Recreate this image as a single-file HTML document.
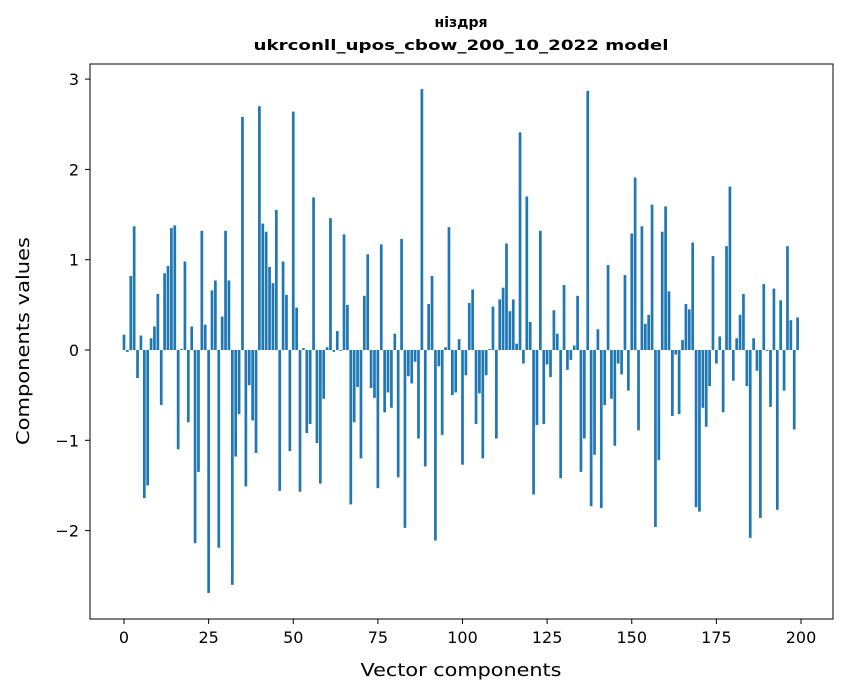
<!DOCTYPE html>
<html><head><meta charset="utf-8"><style>body{margin:0;background:#fff}svg{display:block;font-family:"DejaVu Sans","Liberation Sans",sans-serif}</style></head>
<body>
<svg id="chart" width="847" height="696" viewBox="0 0 847 696" xmlns="http://www.w3.org/2000/svg">
<rect width="847" height="696" fill="#fff"/>
<text x="461" y="27" text-anchor="middle" font-size="14" font-weight="bold">ніздря</text>
<text x="461" y="50" text-anchor="middle" font-size="14" font-weight="bold" textLength="415" lengthAdjust="spacingAndGlyphs">ukrconll_upos_cbow_200_10_2022 model</text>
<g id="bars"></g>
<rect x="90" y="64" width="743" height="555" fill="none" stroke="#000" stroke-width="1"/>
<g id="xt"></g>
<g id="yt"></g>
<text x="461" y="676" text-anchor="middle" font-size="18" textLength="201" lengthAdjust="spacingAndGlyphs">Vector components</text>
<text transform="translate(29,341) rotate(-90)" text-anchor="middle" font-size="18" textLength="208" lengthAdjust="spacingAndGlyphs">Components values</text>
</svg>
<script>
const values = [0.17,-0.02,0.82,1.37,-0.31,0.16,-1.64,-1.50,0.13,0.26,0.62,-0.61,0.85,0.93,1.35,1.38,-1.10,0.01,0.98,-0.80,
0.26,-2.14,-1.35,1.32,0.28,-2.69,0.66,0.77,-2.19,0.37,1.32,0.77,-2.60,-1.18,-0.71,2.58,-1.51,-0.39,-0.78,-1.14,
2.70,1.40,1.31,0.92,0.74,1.55,-1.56,0.98,0.61,-1.12,2.64,0.47,-1.57,0.02,-0.92,-0.82,1.69,-1.03,-1.48,-0.54,
0.03,1.46,-0.02,0.21,-0.01,1.28,0.50,-1.71,-0.80,-0.41,-1.20,0.60,1.06,-0.42,-0.53,-1.53,1.17,-0.69,-0.47,-0.64,
0.18,-1.41,1.23,-1.97,-0.29,-0.37,-0.13,-0.98,2.89,-1.29,0.51,0.82,-2.11,-0.18,-0.94,0.03,1.36,-0.50,-0.47,0.12,
-1.27,-0.28,0.52,0.67,-0.82,-0.48,-1.20,-0.28,0.01,0.48,-0.98,0.56,0.69,1.18,0.43,0.56,0.07,2.41,-0.15,1.70,
0.31,-1.60,-0.83,1.32,-0.82,-0.16,-0.30,0.44,0.18,-1.42,0.72,-0.22,-0.11,0.05,0.60,-1.35,-0.98,2.87,-1.73,-1.16,
0.23,-1.75,-0.61,0.94,-0.54,-1.06,-0.15,-0.27,0.83,-0.45,1.29,1.91,-0.89,1.37,0.29,0.39,1.61,-1.96,-1.22,1.31,
1.59,0.65,-0.73,-0.05,-0.71,0.11,0.51,0.45,1.19,-1.74,-1.79,-0.64,-0.85,-0.40,1.04,-0.15,0.15,-0.69,1.15,1.81,
-0.34,0.13,0.39,0.62,-0.40,-2.08,0.13,-0.23,-1.86,0.73,-0.01,-0.63,0.68,-1.77,0.55,-0.45,1.15,0.33,-0.88,0.36];
const xTicks = [0,25,50,75,100,125,150,175,200];
const yTicks = [-2,-1,0,1,2,3];
const NS='http://www.w3.org/2000/svg';
function xs(v){return 124+(801-124)*v/200;}
function ys(v){return 350-90.3*v;}
const bars=document.getElementById('bars');
values.forEach((v,i)=>{
  const r=document.createElementNS(NS,'rect');
  
  
  const x0=xs(i-0.4),x1=xs(i+0.4);
  r.setAttribute('x',x0);r.setAttribute('width',x1-x0);
  r.setAttribute('y',Math.min(ys(v),ys(0)));r.setAttribute('height',Math.abs(ys(v)-ys(0)));
  r.setAttribute('fill','#1f77b4');
  bars.appendChild(r);
});
const xt=document.getElementById('xt');
xTicks.forEach(t=>{
  const l=document.createElementNS(NS,'line');
  
  
  l.setAttribute('x1',xs(t));l.setAttribute('x2',xs(t));l.setAttribute('y1',619);l.setAttribute('y2',624);l.setAttribute('stroke','#000');
  xt.appendChild(l);
  const s=document.createElementNS(NS,'text');
  
  
  s.setAttribute('x',xs(t));s.setAttribute('y',643);s.setAttribute('text-anchor','middle');s.setAttribute('font-size','16');
  s.textContent=t;xt.appendChild(s);
});
const yt=document.getElementById('yt');
yTicks.forEach(t=>{
  const l=document.createElementNS(NS,'line');
  
  
  l.setAttribute('x1',85);l.setAttribute('x2',90);l.setAttribute('y1',ys(t));l.setAttribute('y2',ys(t));l.setAttribute('stroke','#000');
  yt.appendChild(l);
  const s=document.createElementNS(NS,'text');
  
  
  s.setAttribute('x',79);s.setAttribute('y',ys(t)+6);s.setAttribute('text-anchor','end');s.setAttribute('font-size','16');
  s.textContent=t<0?'\u2212'+Math.abs(t):t;yt.appendChild(s);
});
</script>
</body></html>
